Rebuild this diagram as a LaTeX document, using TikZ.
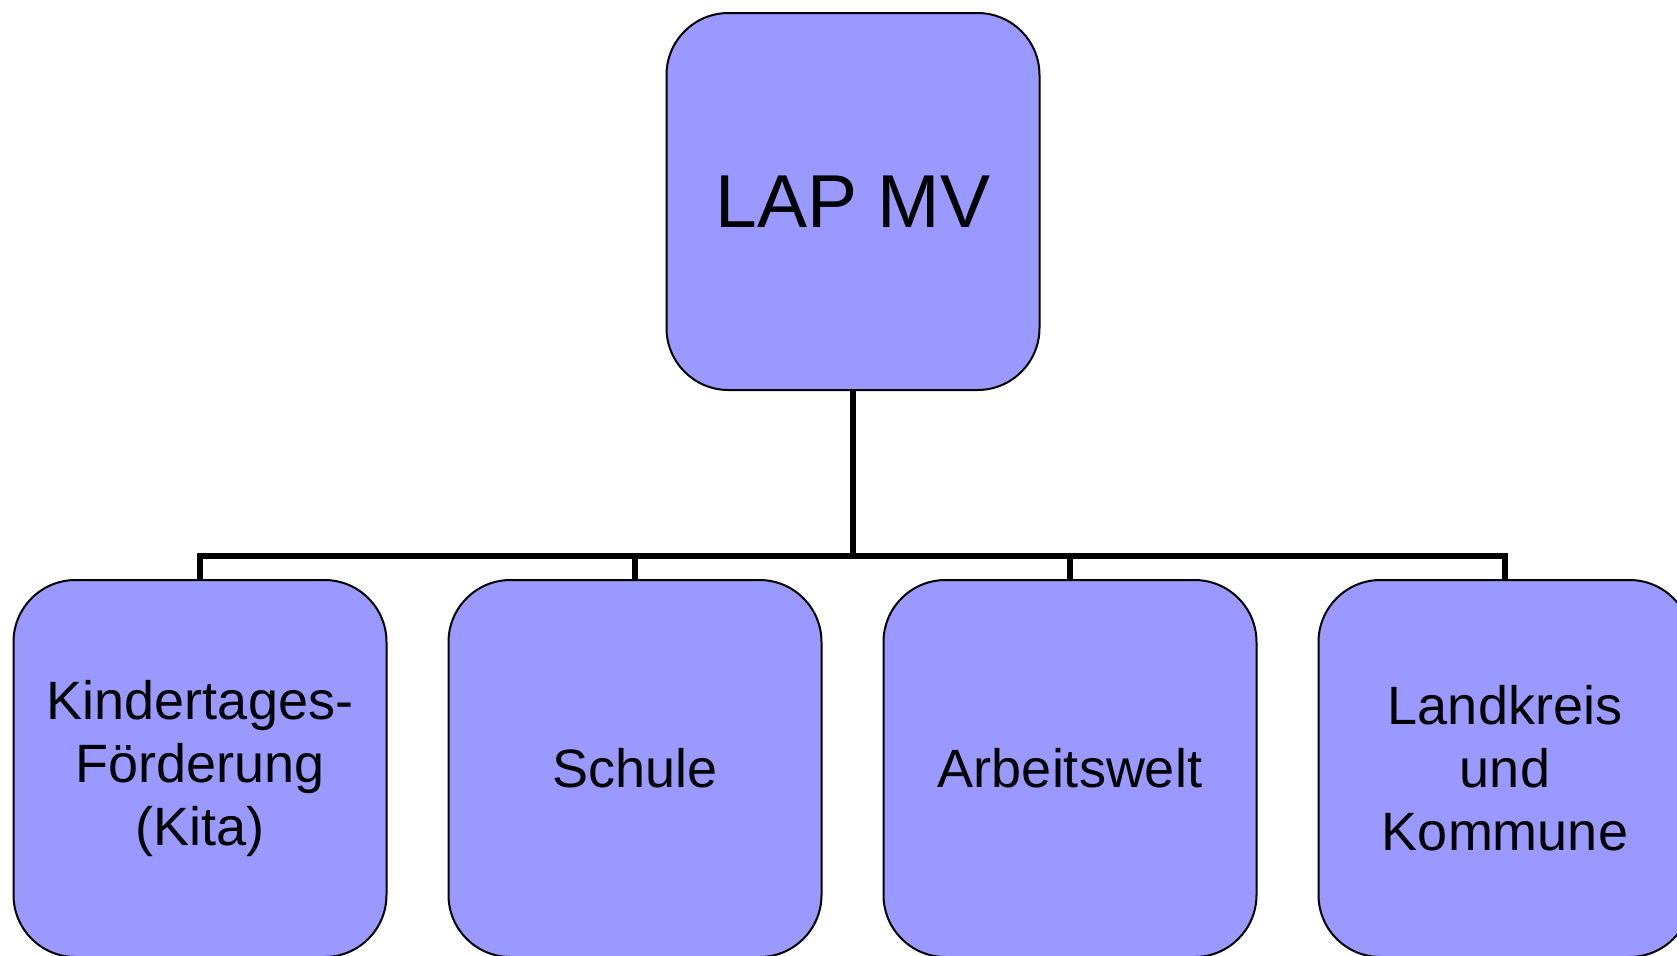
\documentclass[tikz,border=0pt]{standalone}
\usepackage{fontspec}
\setmainfont{Liberation Sans}
\usetikzlibrary{positioning}
\definecolor{boxblue}{HTML}{9999FF}
\begin{document}
\begin{tikzpicture}
            [unit/.style = {draw, line width=1pt, fill=boxblue, rounded corners=31pt,
                            minimum width=186.5pt, minimum height=188.5pt, align=center,
                            font=\fontsize{27pt}{31.5pt}\selectfont},
             link/.style = {draw, line width=2.8pt}]
            \useasboundingbox (0,0) rectangle (838.5pt,-477.5pt);
            \node[unit, font=\fontsize{37.5pt}{44pt}\selectfont] (lap) at (426.5pt,-100.75pt) {LAP MV};
            \node[unit] (kita) at (100pt,-384.25pt) {Kindertages-\\Förderung\\(Kita)};
            \node[unit] (schule) [right=30pt of kita] {Schule};
            \node[unit] (arbeit) [right=30pt of schule] {Arbeitswelt};
            \node[unit] (land) [right=30pt of arbeit] {Landkreis\\und\\Kommune};
            \foreach \c in {kita,schule,arbeit,land}
                \draw[link] (lap.south) -- ++(0,-82.5pt) -| (\c.north);
        \end{tikzpicture}
\end{document}
